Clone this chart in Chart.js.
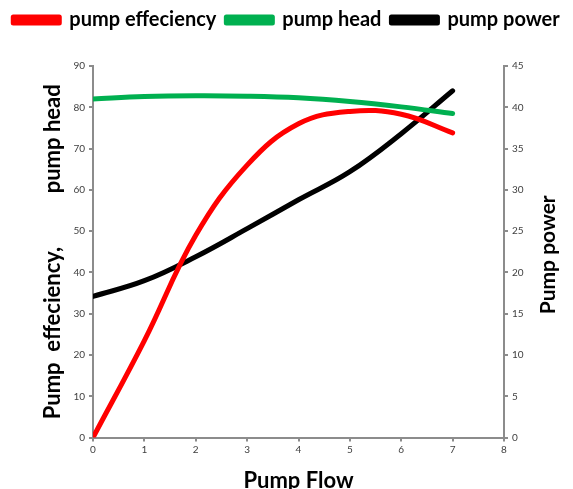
<!DOCTYPE html>
<html>
<head>
<meta charset="utf-8">
<script src="https://cdn.jsdelivr.net/npm/chart.js@4.4.0/dist/chart.umd.min.js"></script>
<style>
  html, body { margin: 0; padding: 0; background: #fff; }
  #wrap { width: 573px; height: 489px; position: relative; }
</style>
</head>
<body>
<div id="wrap"><canvas id="pumpChart"></canvas></div>
<script>
// datos
const flow = [0, 1, 2, 3, 4, 5, 6, 7];
const efficiency = [0, 23.5, 49, 66, 76, 79, 78.3, 73.8];
const head = [82, 82.6, 82.8, 82.7, 82.3, 81.4, 80.1, 78.5];
const power = [17.1, 19, 21.9, 25.3, 28.8, 32.2, 36.8, 42];

const axisGray = '#8c8c8c';
const tickFont = { family: 'Lato', size: 10 };

function pts(vals) {
    return flow.map((f, i) => ({ x: f, y: vals[i] }));
}

// espacio extra bajo la leyenda
const legendSpace = {
    id: 'legendSpace',
    beforeInit(chart) {
        const origFit = chart.legend.fit;
        chart.legend.fit = function () {
            origFit.call(this);
            this.height += 26;
        };
    }
};

// titulo del eje derecho, leido de abajo hacia arriba como en el original
const rightTitle = {
    id: 'rightTitle',
    afterDraw(chart) {
        const c = chart.ctx;
        const area = chart.chartArea;
        c.save();
        c.translate(548, (area.top + area.bottom) / 2 + 3);
        c.rotate(-Math.PI / 2);
        c.font = 'bold 21px Lato';
        c.fillStyle = '#000';
        c.textAlign = 'center';
        c.textBaseline = 'middle';
        c.fillText('Pump power', 0, 0);
        c.restore();
    }
};

const ctx = document.getElementById('pumpChart').getContext('2d');

new Chart(ctx, {
    type: 'line',
    data: {
        datasets: [
            { label: 'pump effeciency', data: pts(efficiency), borderColor: '#ff0000', backgroundColor: '#ff0000', yAxisID: 'y' },
            { label: 'pump head', data: pts(head), borderColor: '#00b050', backgroundColor: '#00b050', yAxisID: 'y' },
            { label: 'pump power', data: pts(power), borderColor: '#000000', backgroundColor: '#000000', yAxisID: 'y1' }
        ]
    },
    plugins: [legendSpace, rightTitle],
    options: {
        responsive: true,
        maintainAspectRatio: false,
        animation: false,
        elements: {
            line: { borderWidth: 5, tension: 0.4, borderCapStyle: 'round', borderJoinStyle: 'round' },
            point: { radius: 0 }
        },
        layout: { padding: { left: 0, right: 0, top: 0, bottom: -5 } },
        plugins: {
            tooltip: { enabled: false },
            legend: {
                position: 'top',
                labels: {
                    boxWidth: 46,
                    boxHeight: 6,
                    padding: 10,
                    color: '#000',
                    font: { family: 'Lato', size: 20, weight: 'bold' }
                }
            }
        },
        scales: {
            x: {
                type: 'linear',
                min: 0, max: 8,
                ticks: { stepSize: 1, color: '#404040', font: tickFont, padding: 2 },
                grid: { drawOnChartArea: false, tickLength: 4, color: axisGray, lineWidth: 2 },
                border: { color: axisGray, width: 2 },
                title: { display: true, text: 'Pump Flow', color: '#000', font: { family: 'Lato', size: 22, weight: 'bold' }, padding: { top: 10, bottom: 0 } }
            },
            y: {
                position: 'left',
                min: 0, max: 90,
                ticks: { stepSize: 10, color: '#404040', font: tickFont, padding: 4 },
                grid: { drawOnChartArea: false, tickLength: 4, color: axisGray, lineWidth: 2 },
                border: { color: axisGray, width: 2 },
                title: { display: true, text: 'Pump  effeciency,          pump head', color: '#000', font: { family: 'Lato', size: 22, weight: 'bold' }, padding: { top: 40, bottom: 3 } }
            },
            y1: {
                position: 'right',
                min: 0, max: 45,
                ticks: { stepSize: 5, color: '#404040', font: tickFont, padding: 4 },
                grid: { drawOnChartArea: false, tickLength: 4, color: axisGray, lineWidth: 2 },
                border: { color: axisGray, width: 2 },
                afterFit(scale) { scale.width = 69; }
            }
        }
    }
});
</script>
</body>
</html>
